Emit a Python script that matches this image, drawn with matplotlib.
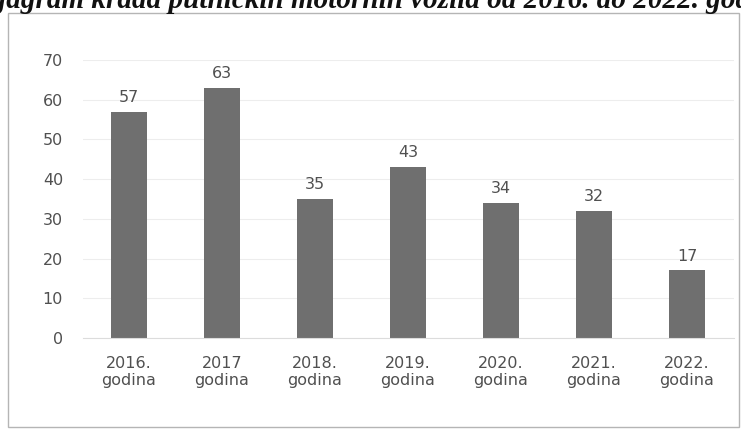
"""Bar chart: car thefts per year, 2016-2022 (scanned Excel-style chart)."""
import matplotlib

matplotlib.use("Agg")
import matplotlib.pyplot as plt
from matplotlib.patches import Rectangle

years = ["2016.", "2017", "2018.", "2019.", "2020.", "2021.", "2022."]
thefts = [57, 63, 35, 43, 34, 32, 17]
y_ticks = [0, 10, 20, 30, 40, 50, 60, 70]
title = "Dijagram krađa putničkih motornih vozila od 2016. do 2022. godine"

bar_color = "#6f6f6f"
text_gray = "#505050"

fig = plt.figure(figsize=(7.41, 4.33), dpi=100)
fig.patch.set_facecolor("white")

# chart frame from the scanned document
fig.patches.append(Rectangle((8 / 741, 6 / 433), 731 / 741, 414 / 433,
                             transform=fig.transFigure, fill=False,
                             edgecolor="#b5b5b5", linewidth=1.0))

# title line of the page, mostly cut off at the top of the scan
fig.text(-0.042, 1 - 8 / 433, title, family="Liberation Serif", fontsize=21,
         fontweight="bold", style="italic", color="#111111", va="baseline")

ax = fig.add_axes([82.5 / 741, 95 / 433, 651 / 741, 278 / 433])
x = range(len(years))
ax.bar(x, thefts, width=0.39, color=bar_color, zorder=2)
for xi, v in zip(x, thefts):
    ax.annotate(str(v), (xi, v), xytext=(0, 5), textcoords="offset points",
                ha="center", va="bottom", fontsize=11.5, color=text_gray)

ax.set_xlim(-0.5, len(years) - 0.5)
ax.set_ylim(0, 70)
ax.set_yticks(y_ticks)
ax.set_xticks(list(x), [f"{y}\ngodina" for y in years])
ax.tick_params(axis="both", length=0, labelsize=11.5, labelcolor=text_gray)
ax.tick_params(axis="y", pad=14)
ax.tick_params(axis="x", pad=13)
ax.grid(axis="y", color="#ededed", linewidth=0.8, zorder=0)
for side in ["top", "right", "left"]:
    ax.spines[side].set_visible(False)
ax.spines["bottom"].set_color("#dcdcdc")

fig.savefig("out.png", dpi=100, facecolor="white")
